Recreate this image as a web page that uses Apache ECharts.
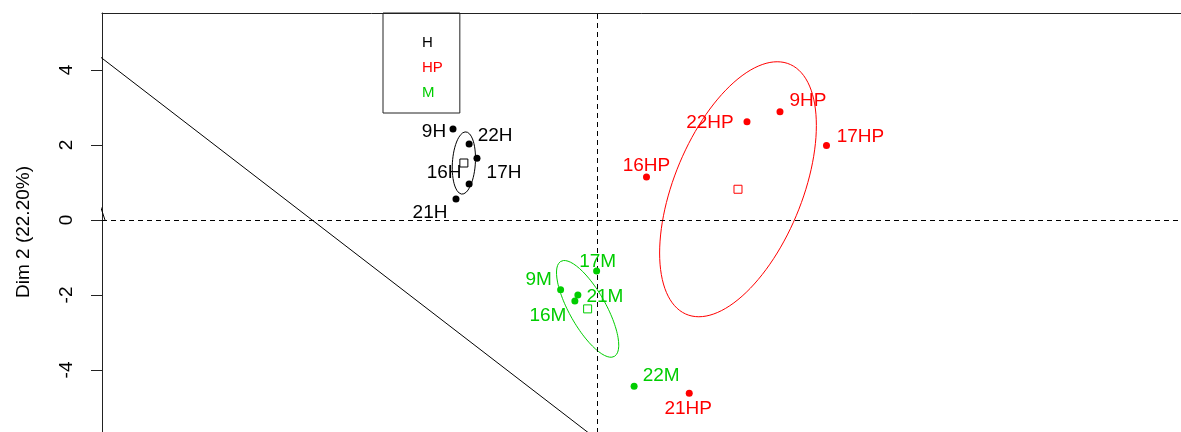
<!DOCTYPE html>
<html>
<head>
<meta charset="utf-8">
<script src="https://cdn.jsdelivr.net/npm/echarts@6/dist/echarts.min.js"></script>
<style>
  html, body { margin: 0; padding: 0; background: #fff; }
  #chart { width: 1181px; height: 432px; }
</style>
</head>
<body>
<div id="chart"></div>
<script>
// Individuals on the first factorial plane, coloured by group
const groupNames = ['H', 'HP', 'M'];
const groupColors = ['#000000', '#FF0000', '#00CD00'];

const hNames = ['9H', '22H', '17H', '16H', '21H'];
const hDim1 = [-3.84, -3.41, -3.20, -3.41, -3.76];
const hDim2 = [2.43, 2.03, 1.65, 0.96, 0.56];

const hpNames = ['22HP', '9HP', '17HP', '16HP', '21HP'];
const hpDim1 = [4.00, 4.88, 6.12, 1.32, 2.46];
const hpDim2 = [2.62, 2.89, 1.99, 1.15, -4.62];

const mNames = ['17M', '9M', '21M', '16M', '22M'];
const mDim1 = [-0.01, -0.97, -0.51, -0.59, 0.99];
const mDim2 = [-1.36, -1.86, -2.00, -2.16, -4.43];

// group centroids and their confidence ellipses (spread along each dim + correlation)
const centroidDim1 = [-3.55, 3.76, -0.25];
const centroidDim2 = [1.52, 0.82, -2.37];
const ellipseSpread1 = [0.31, 2.09, 0.83];
const ellipseSpread2 = [0.83, 3.40, 1.29];
const ellipseCor = [0.15, 0.50, -0.75];

// straight reference segments
const refLineDim1 = [-14, 1];
const refLineDim2 = [4.93, -6.62];
const stubDim1 = [-13.12, -13.5];
const stubDim2 = [0, 1.14];

const yTicks = [-4, -2, 0, 2, 4];
const yAxisTitle = 'Dim 2 (22.20%)';

// label placement (pixel offsets from each point)
const hLabelOffset = [[-19, 3], [26, -8], [27, 15], [-25, -11], [-26, 14]];
const hpLabelOffset = [[-37, 1], [28, -11], [34, -9], [0, -11], [-1, 16]];
const mLabelOffset = [[1, -9], [-22, -10], [27, 2], [-27, 15], [27, -10]];

const FONT = "'Liberation Sans', Arial, Helvetica, sans-serif";

const groups = [
  { names: hNames, d1: hDim1, d2: hDim2, offsets: hLabelOffset },
  { names: hpNames, d1: hpDim1, d2: hpDim2, offsets: hpLabelOffset },
  { names: mNames, d1: mDim1, d2: mDim2, offsets: mLabelOffset }
];

function ellipsePath(g) {
  const pts = [];
  const n = 120;
  const r = ellipseCor[g];
  const q = Math.sqrt(1 - r * r);
  for (let i = 0; i <= n; i++) {
    const t = (2 * Math.PI * i) / n;
    pts.push([
      centroidDim1[g] + ellipseSpread1[g] * Math.cos(t),
      centroidDim2[g] + ellipseSpread2[g] * (r * Math.cos(t) + q * Math.sin(t))
    ]);
  }
  return pts;
}

const series = [];

// dashed axes through the origin + reference segments
series.push({
  type: 'line',
  name: 'ref',
  data: refLineDim1.map((x, i) => [x, refLineDim2[i]]),
  showSymbol: false,
  clip: true,
  silent: true,
  lineStyle: { color: '#000', width: 1 },
  z: 2,
  markLine: {
    silent: true,
    symbol: 'none',
    label: { show: false },
    lineStyle: { color: '#000', width: 1, type: [5, 4] },
    data: [{ yAxis: 0 }, { xAxis: 0 }]
  }
});
series.push({
  type: 'line',
  name: 'stub',
  data: stubDim1.map((x, i) => [x, stubDim2[i]]),
  showSymbol: false,
  clip: true,
  silent: true,
  lineStyle: { color: '#000', width: 1 },
  z: 2
});

groups.forEach((grp, g) => {
  const color = groupColors[g];
  series.push({
    type: 'line',
    name: groupNames[g] + ' ellipse',
    data: ellipsePath(g),
    showSymbol: false,
    silent: true,
    lineStyle: { color: color, width: 1 },
    z: 3
  });
  series.push({
    type: 'scatter',
    name: groupNames[g] + ' centroid',
    data: [[centroidDim1[g], centroidDim2[g]]],
    symbol: 'rect',
    symbolSize: 8,
    silent: true,
    itemStyle: { color: 'rgba(0,0,0,0)', borderColor: color, borderWidth: 1, opacity: 1 },
    z: 4
  });
  series.push({
    type: 'scatter',
    name: groupNames[g],
    symbol: 'circle',
    symbolSize: 7,
    itemStyle: { color: color, opacity: 1 },
    z: 5,
    data: grp.names.map((nm, i) => ({
      name: nm,
      value: [grp.d1[i], grp.d2[i]],
      label: { offset: grp.offsets[i] }
    })),
    label: {
      show: true,
      formatter: '{b}',
      position: ['50%', '50%'],
      align: 'center',
      verticalAlign: 'middle',
      color: color,
      opacity: 1,
      fontSize: 19,
      fontFamily: FONT
    }
  });
});

const chart = echarts.init(document.getElementById('chart'), null, { renderer: 'canvas' });
chart.setOption({
  animation: false,
  backgroundColor: '#fff',
  // plot region runs past the right and bottom edges of the canvas
  grid: { left: 102, top: 13, width: 1099, height: 438, containLabel: false, outerBoundsMode: 'none' },
  legend: {
    orient: 'vertical',
    left: 383,
    top: 13,
    icon: 'none',
    itemWidth: 0,
    itemHeight: 15,
    itemGap: 10,
    selectedMode: false,
    padding: [22, 17, 13, 34],
    borderColor: '#222',
    borderWidth: 1,
    textStyle: { fontSize: 15, fontFamily: FONT, lineHeight: 15 },
    data: groupNames.map((nm, g) => ({ name: nm, textStyle: { color: groupColors[g] } }))
  },
  xAxis: {
    type: 'value',
    position: 'top',
    min: -13.2,
    max: 16.107,
    axisLine: { show: true, onZero: false, lineStyle: { color: '#222', width: 1 } },
    axisTick: { show: false },
    axisLabel: { show: false },
    splitLine: { show: false }
  },
  yAxis: {
    type: 'value',
    min: -6.16,
    max: 5.52,
    name: yAxisTitle,
    nameLocation: 'middle',
    nameRotate: 90,
    nameGap: 69,
    nameTextStyle: { color: '#000', fontSize: 19, fontFamily: FONT },
    axisLine: { show: true, onZero: false, lineStyle: { color: '#222', width: 1 } },
    axisTick: { show: true, length: 11, customValues: yTicks, lineStyle: { color: '#222' } },
    axisLabel: { show: true, rotate: 90, margin: 26, customValues: yTicks, color: '#000', fontSize: 19, fontFamily: FONT },
    splitLine: { show: false }
  },
  series: series
});
</script>
</body>
</html>
